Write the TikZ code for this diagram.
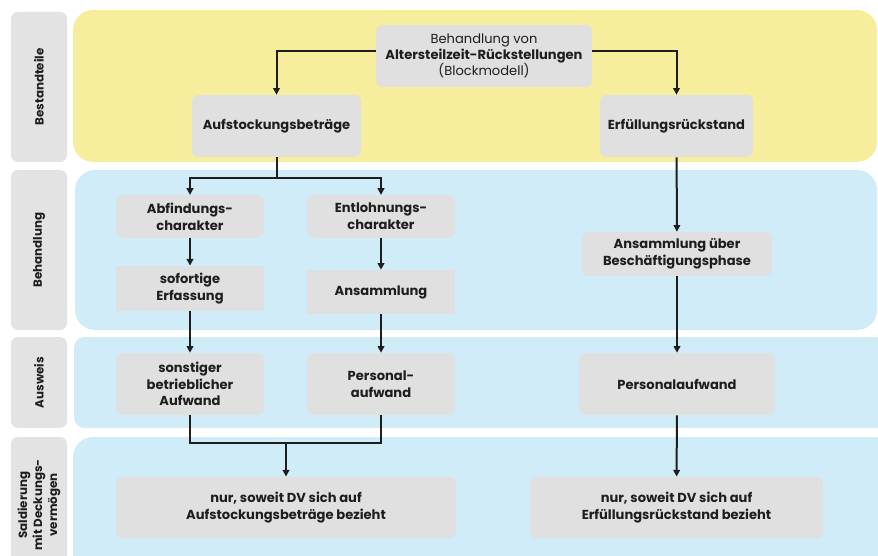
\documentclass[tikz,border=0pt]{standalone}
\usepackage{fontspec}
\setmainfont{Poppins}
\usetikzlibrary{arrows.meta}

\definecolor{bandgelb}{RGB}{247,238,157}
\definecolor{bandblau}{RGB}{208,236,248}
\definecolor{boxgrau}{RGB}{224,224,224}
\definecolor{labelgrau}{RGB}{227,227,227}
\definecolor{textdunkel}{RGB}{30,30,30}

\begin{document}
\begin{tikzpicture}[
  x=0.75pt,y=-0.75pt,
  >={Triangle[length=5pt,width=5pt]},
  flow/.style={->,line width=1.5pt,textdunkel},
  kante/.style={line width=1.5pt,textdunkel},
  box/.style={fill=boxgrau,rounded corners=5pt,align=center,inner sep=1pt,
    text=textdunkel,font=\bfseries\fontsize{9.8}{12.6}\selectfont},
  flachbox/.style={box,sharp corners},
  zeile/.style={fill=labelgrau,rounded corners=5pt,rotate=90,align=center,
    inner sep=0pt,minimum height=42pt,text=textdunkel,
    font=\bfseries\fontsize{8.9}{11.2}\selectfont}
]

\useasboundingbox (0,0) rectangle (878,556);

%--------------------
% Hintergrundbänder
%--------------------
\fill[bandgelb,rounded corners=15pt] (73,10) rectangle (877,162);
\fill[bandblau,rounded corners=15pt] (75,170) rectangle (877,330);
\fill[bandblau,rounded corners=8pt] (74,337) rectangle (900,428);
\fill[bandblau,rounded corners=15pt] (73,437) rectangle (900,600);

% Zeilenbeschriftung links
\node[zeile,minimum width=112.5pt] (lbest) at (39,87) {Bestandteile};
\node[zeile,minimum width=120pt] (lbeh) at (39,250) {Behandlung};
\node[zeile,minimum width=68pt] (lausw) at (39,382.5) {Ausweis};
\node[zeile,minimum width=102pt] (lsald) at (39,505)
  {Saldierung\\mit Deckungs-\\vermögen};

%--------------------
% Bestandteile
%--------------------
\node[box,minimum width=162pt,minimum height=46.5pt,
  font=\fontsize{9.8}{12}\selectfont] (atz) at (484,56)
  {Behandlung von\\\textbf{Altersteilzeit-Rückstellungen}\\(Blockmodell)};
\node[box,minimum width=127pt,minimum height=46.5pt] (aufst) at (276.5,126)
  {Aufstockungsbeträge};
\node[box,minimum width=115pt,minimum height=46.5pt] (erfr) at (676.5,126)
  {Erfüllungsrückstand};

\draw[flow] ([yshift=4pt]atz.west) -| (aufst.north);
\draw[flow] ([yshift=4pt]atz.east) -| (erfr.north);

%--------------------
% Behandlung
%--------------------
\node[box,minimum width=111pt,minimum height=32pt] (abf) at (190,216.5)
  {Abfindungs-\\charakter};
\node[box,minimum width=111pt,minimum height=32pt] (entl) at (381,216.5)
  {Entlohnungs-\\charakter};
\node[flachbox,minimum width=111pt,minimum height=34pt] (sof) at (190,288.5)
  {sofortige\\Erfassung};
\node[flachbox,minimum width=111pt,minimum height=33pt] (ans) at (381,292)
  {Ansammlung};
\node[box,minimum width=142.5pt,minimum height=33pt] (ansb) at (677,254)
  {Ansammlung über\\Beschäftigungsphase};

% Aufteilung der Aufstockungsbeträge
\coordinate (teil) at (276.5,178);
\draw[kante] (aufst.south) -- (teil);
\draw[flow] (teil) -| (abf.north);
\draw[flow] (teil) -| (entl.north);

\draw[flow] (abf) -- (sof);
\draw[flow] (entl) -- (ans);
\draw[flow] (erfr) -- (ansb);

%--------------------
% Ausweis
%--------------------
\node[box,minimum width=111pt,minimum height=46.5pt] (sonst) at (190,384)
  {sonstiger\\betrieblicher\\Aufwand};
\node[box,minimum width=111pt,minimum height=46.5pt] (pers) at (381,384)
  {Personal-\\aufwand};
\node[box,minimum width=147pt,minimum height=46.5pt] (persr) at (677,384)
  {Personalaufwand};

\draw[flow] (sof) -- (sonst);
\draw[flow] (ans) -- (pers);
\draw[flow] (ansb) -- (persr);

%--------------------
% Saldierung
%--------------------
\node[box,minimum width=255pt,minimum height=46pt] (nurl) at (286,507.5)
  {nur, soweit DV sich auf\\Aufstockungsbeträge bezieht};
\node[box,minimum width=220pt,minimum height=46pt] (nurr) at (676.5,507.5)
  {nur, soweit DV sich auf\\Erfüllungsrückstand bezieht};

% Zusammenführung links
\coordinate (zus) at (286,443);
\draw[kante] (sonst.south) |- (zus) -| (pers.south);
\draw[flow] (zus) -- (nurl.north);
\draw[flow] (persr) -- (nurr);

\end{tikzpicture}
\end{document}
